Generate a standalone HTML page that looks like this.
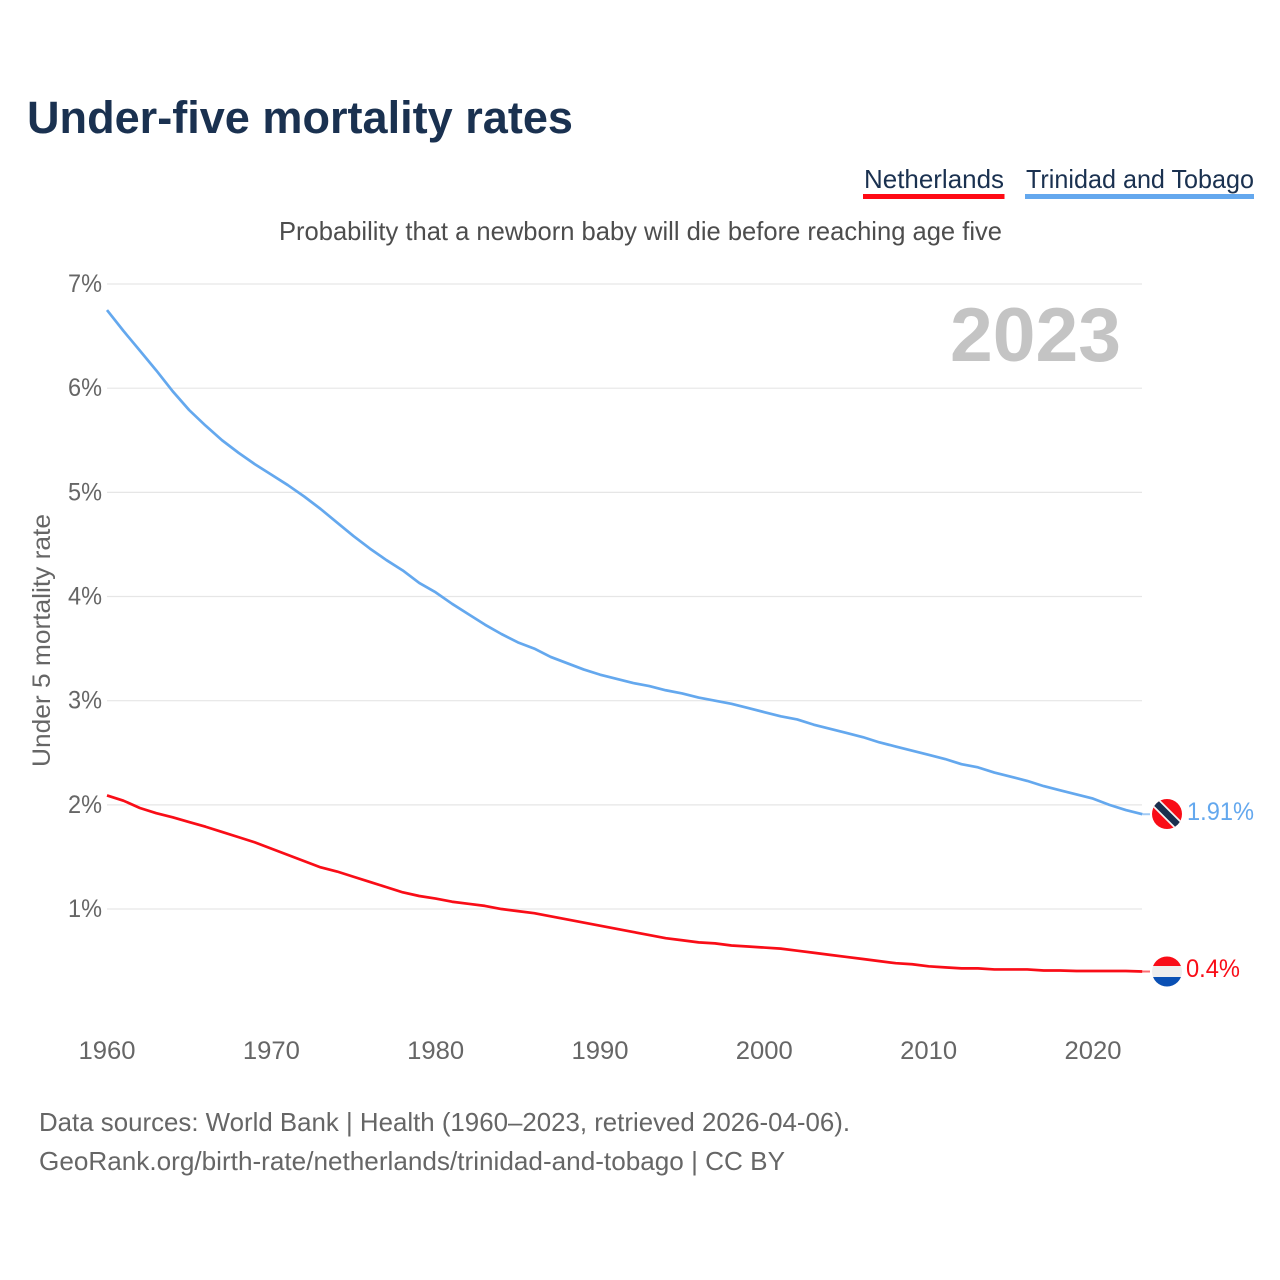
<!DOCTYPE html>
<html>
<head>
<meta charset="utf-8">
<title>Under-five mortality rates</title>
<style>
html,body{margin:0;padding:0;background:#fff;}
svg{display:block;font-family:"Liberation Sans",sans-serif;}
</style>
</head>
<body>
<svg id="chart" width="1280" height="1280" viewBox="0 0 1280 1280" xmlns="http://www.w3.org/2000/svg">
  <defs>
    <clipPath id="flag-clip-tt"><circle cx="1167" cy="814" r="15"/></clipPath>
    <clipPath id="flag-clip-nl"><circle cx="1167" cy="971.5" r="15"/></clipPath>
  </defs>
  <rect x="0" y="0" width="1280" height="1280" fill="#fff"/>
  <text x="27" y="133" font-size="45" font-weight="700" fill="#1a3150" textLength="546" lengthAdjust="spacingAndGlyphs">Under-five mortality rates</text>
  <g>
    <text x="864" y="188" font-size="26" fill="#1a3150" textLength="140" lengthAdjust="spacingAndGlyphs">Netherlands</text>
    <rect x="863" y="194" width="141.5" height="5" fill="#ff0a14"/>
  </g>
  <g>
    <text x="1026" y="188" font-size="26" fill="#1a3150" textLength="228" lengthAdjust="spacingAndGlyphs">Trinidad and Tobago</text>
    <rect x="1025" y="194" width="229" height="5" fill="#64a8ee"/>
  </g>
  <text x="279" y="240" font-size="26" fill="#4d4d4d" textLength="723" lengthAdjust="spacingAndGlyphs">Probability that a newborn baby will die before reaching age five</text>
  <text transform="translate(50,767) rotate(-90)" font-size="25" fill="#666" textLength="253" lengthAdjust="spacingAndGlyphs">Under 5 mortality rate</text>
  <g id="grid"></g>
  <g id="yticks"></g>
  <g id="xticks"></g>
  <text x="950" y="361" font-size="76" font-weight="700" fill="#c4c4c4" textLength="171" lengthAdjust="spacingAndGlyphs">2023</text>
  <g id="series"></g>
  <g clip-path="url(#flag-clip-tt)">
    <rect x="1150" y="797" width="34" height="34" fill="#f90d17"/>
    <line x1="1150" y1="797" x2="1184" y2="831" stroke="#f4f4f4" stroke-width="10"/>
    <line x1="1150" y1="797" x2="1184" y2="831" stroke="#1a2f4e" stroke-width="6.5"/>
  </g>
  <g clip-path="url(#flag-clip-nl)">
    <rect x="1150" y="955" width="34" height="11" fill="#f90d17"/>
    <rect x="1150" y="966" width="34" height="11" fill="#eeeeee"/>
    <rect x="1150" y="977" width="34" height="12" fill="#0a50b4"/>
  </g>
  <text x="1187" y="820" font-size="25" fill="#64a8ee" textLength="67" lengthAdjust="spacingAndGlyphs">1.91%</text>
  <text x="1186" y="977" font-size="25" fill="#f90d17" textLength="54" lengthAdjust="spacingAndGlyphs">0.4%</text>
  <text x="39" y="1131" font-size="26" fill="#666" textLength="811" lengthAdjust="spacingAndGlyphs">Data sources: World Bank | Health (1960–2023, retrieved 2026-04-06).</text>
  <text x="39" y="1170" font-size="26" fill="#666" textLength="746" lengthAdjust="spacingAndGlyphs">GeoRank.org/birth-rate/netherlands/trinidad-and-tobago | CC BY</text>
</svg>
<script>
const startYear = 1960;
const yTickValues = [1, 2, 3, 4, 5, 6, 7];
const xTickValues = [1960, 1970, 1980, 1990, 2000, 2010, 2020];
const trinidadValues = [
  6.75, 6.55, 6.36, 6.17, 5.97, 5.79, 5.64, 5.50, 5.38, 5.27,
  5.17, 5.07, 4.96, 4.84, 4.71, 4.58, 4.46, 4.35, 4.25, 4.13,
  4.04, 3.93, 3.83, 3.73, 3.64, 3.56, 3.50, 3.42, 3.36, 3.30,
  3.25, 3.21, 3.17, 3.14, 3.10, 3.07, 3.03, 3.00, 2.97, 2.93,
  2.89, 2.85, 2.82, 2.77, 2.73, 2.69, 2.65, 2.60, 2.56, 2.52,
  2.48, 2.44, 2.39, 2.36, 2.31, 2.27, 2.23, 2.18, 2.14, 2.10,
  2.06, 2.00, 1.95, 1.91
];
const netherlandsValues = [
  2.09, 2.04, 1.97, 1.92, 1.88, 1.835, 1.79, 1.74, 1.69, 1.64,
  1.58, 1.52, 1.46, 1.40, 1.36, 1.31, 1.26, 1.21, 1.16, 1.125,
  1.10, 1.07, 1.05, 1.03, 1.00, 0.98, 0.96, 0.93, 0.90, 0.87,
  0.84, 0.81, 0.78, 0.75, 0.72, 0.70, 0.68, 0.67, 0.65, 0.64,
  0.63, 0.62, 0.60, 0.58, 0.56, 0.54, 0.52, 0.50, 0.48, 0.47,
  0.45, 0.44, 0.43, 0.43, 0.42, 0.42, 0.42, 0.41, 0.41, 0.405,
  0.405, 0.405, 0.405, 0.40
];

const NS = 'http://www.w3.org/2000/svg';
function xScale(year) { return 107 + (year - 1960) * 16.433; }
function yScale(v) { return 284 + (7 - v) * 104.17; }
function make(tag, attrs, parent) {
  const el = document.createElementNS(NS, tag);
  for (const k in attrs) el.setAttribute(k, attrs[k]);
  parent.appendChild(el);
  return el;
}

const grid = document.getElementById('grid');
const yticks = document.getElementById('yticks');
const xticks = document.getElementById('xticks');
const series = document.getElementById('series');

yTickValues.forEach(function (v) {
  const line = make('line', { x1: 107, x2: 1142, y1: yScale(v), y2: yScale(v), stroke: '#e6e6e6', 'stroke-width': 1.2 }, grid);
  
  
  const label = make('text', { x: 68, y: yScale(v) + 8, 'font-size': 25, fill: '#666', textLength: 34, lengthAdjust: 'spacingAndGlyphs' }, yticks);
  label.textContent = v + '%';
  
  
});

xTickValues.forEach(function (yr) {
  const label = make('text', { x: xScale(yr) - 28.5, y: 1059, 'font-size': 25, fill: '#666', textLength: 57, lengthAdjust: 'spacingAndGlyphs' }, xticks);
  label.textContent = yr;
  
  
});

function drawSeries(values, color, name) {
  const pts = values.map(function (v, i) { return xScale(startYear + i).toFixed(2) + ',' + yScale(v).toFixed(2); });
  const path = make('polyline', { points: pts.join(' '), fill: 'none', stroke: color, 'stroke-width': 2.7, 'stroke-linejoin': 'round' }, series);
  
  
  const last = values[values.length - 1];
  const lead = make('line', { x1: xScale(startYear + values.length - 1), x2: 1150, y1: yScale(last), y2: yScale(last), stroke: color, 'stroke-width': 2, opacity: 0.6 }, series);
  
  
}
drawSeries(trinidadValues, '#64a8ee', 'line-trinidad-and-tobago');
drawSeries(netherlandsValues, '#f90d17', 'line-netherlands');
</script>
</body>
</html>
